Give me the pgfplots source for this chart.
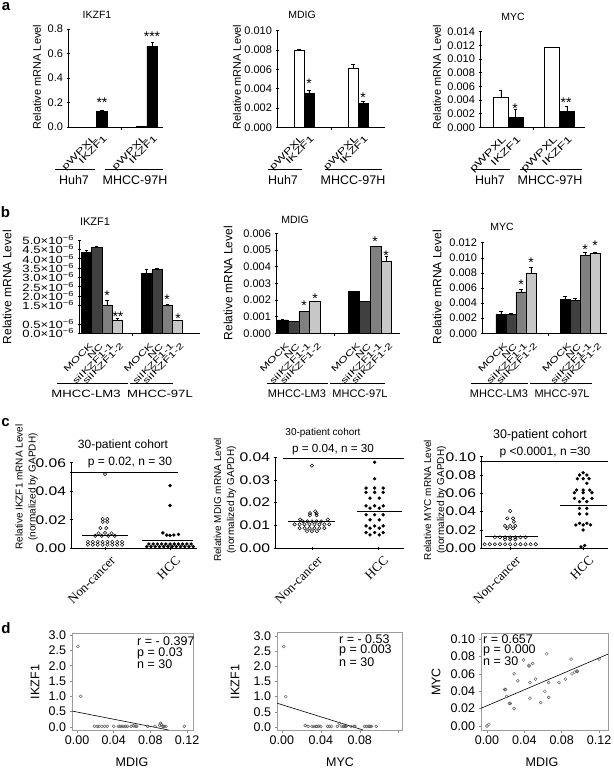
\documentclass[border=0pt]{standalone}
\usepackage{pgfplots}
\pgfplotsset{compat=1.18}
\usepackage{fontspec}
\setmainfont{Liberation Sans}
\newfontfamily\seriffont{Liberation Serif}
\newfontfamily\wide[FakeStretch=1.25]{Liberation Sans}
\newfontfamily\wider[FakeStretch=1.45]{Liberation Sans}
\newcommand\fs[1]{\fontsize{#1}{#1}\selectfont}
\newcommand\tm[1]{#1×10\textsuperscript{−6}}
\definecolor{ncgray}{gray}{0.25}
\definecolor{sagray}{gray}{0.5}
\definecolor{sbgray}{gray}{0.78}
\definecolor{dgray}{gray}{0.35}
\pgfplotsset{
  base/.style={scale only axis, anchor=south west, clip=false, scaled ticks=false,
    /pgf/number format/assume math mode=true,
    tick style={black, line width=0.6pt}, major tick length=3pt, tick align=outside},
  barax/.style={base, axis lines=left, axis line style={-, line width=0.7pt},
    every outer x axis line/.append style={-}, every outer y axis line/.append style={-},
    xtick style={draw=none}, ymin=0,
    xticklabel style={rotate=45, anchor=north east, inner sep=1pt},
    yticklabel style={/pgf/number format/fixed, /pgf/number format/fixed zerofill}},
  alab/.style={xticklabel style={font=\wider\fs{9}, xshift=-2.5pt, yshift=-4pt}},
  blab/.style={xticklabel style={font=\wider\fs{8.5}, xshift=-2.5pt, yshift=-6pt}},
  bars/.style={ybar, bar width=#1, bar shift=0pt, draw=black, line width=0.5pt,
    error bars/y dir=plus, error bars/y explicit,
    error bars/error bar style={line width=0.5pt, black},
    error bars/error mark options={rotate=90, black, line width=0.5pt, mark size=1.6pt}},
  dotax/.style={base, axis lines=left, axis line style={-, line width=0.8pt},
    every outer x axis line/.append style={-}, every outer y axis line/.append style={-},
    xtick={1,2}, xticklabels={Non-cancer,HCC}, ymin=0,
    xticklabel style={rotate=45, anchor=north east, font=\seriffont\fs{13}, xshift=3pt, yshift=-4pt},
    yticklabel style={font=\wide\fs{12.5}, /pgf/number format/fixed,
      /pgf/number format/fixed zerofill, /pgf/number format/precision=2}},
  opendot/.style={only marks, mark=o, mark size=1.7pt, mark options={line width=0.5pt, fill=white, draw=black}},
  filldot/.style={only marks, mark=*, mark size=1.5pt, mark options={fill=black, draw=black}},
  medline/.style={no marks, line width=0.8pt, black},
  corrax/.style={base, axis line style={dgray!60, line width=0.6pt},
    tick style={dgray!70, line width=0.5pt}, major tick length=2.5pt, tick pos=left,
    ticklabel style={font=\fs{12.5}},
    xticklabel style={/pgf/number format/fixed, /pgf/number format/fixed zerofill, /pgf/number format/precision=2}},
  corrpts/.style={only marks, mark=o, mark size=1.5pt, mark options={dgray, line width=0.45pt}},
  regline/.style={no marks, black, line width=0.6pt},
}
\begin{document}
\begin{tikzpicture}
\useasboundingbox (0,0) rectangle (613pt,-768pt);

%================ a: IKZF1
\begin{axis}[barax, alab, at={(68pt,-127pt)}, width=95pt, height=98pt,
  xmin=0.43, xmax=2.32, ymax=0.8, ytick={0,0.2,0.4,0.6,0.8},
  yticklabel style={font=\fs{11}, /pgf/number format/precision=1},
  xtick={0.894,1.106,1.894,2.106}, xticklabels={pWPXL,IKZF1,pWPXL,IKZF1}]
\addplot[bars=0.212, fill=white] coordinates {(0.894,0.001) +- (0,0) (1.894,0.004) +- (0,0)};
\addplot[bars=0.212, fill=black] coordinates {(1.106,0.13) +- (0,0.008) (2.106,0.66) +- (0,0.035)};
\draw[line width=0.6pt] (axis cs:1.5,0) -- ++(0pt,-3pt);
\end{axis}

%================ a: MDIG
\begin{axis}[barax, alab, at={(277pt,-127.3pt)}, width=108pt, height=96.6pt,
  xmin=0.5, xmax=2.5, ymax=0.010, ytick={0,0.002,0.004,0.006,0.008,0.010},
  yticklabel style={font=\fs{11}, /pgf/number format/precision=3},
  xtick={0.9075,1.0925,1.9075,2.0925}, xticklabels={pWPXL,IKZF1,pWPXL,IKZF1}]
\addplot[bars=0.185, fill=white] coordinates {(0.9075,0.0080) +- (0,0.0001) (1.9075,0.0061) +- (0,0.0004)};
\addplot[bars=0.185, fill=black] coordinates {(1.0925,0.0035) +- (0,0.0003) (2.0925,0.0025) +- (0,0.0002)};
\draw[line width=0.6pt] (axis cs:1.5,0) -- ++(0pt,-3pt);
\end{axis}

%================ a: MYC
\begin{axis}[barax, alab, at={(480pt,-127.3pt)}, width=105pt, height=95.6pt,
  xmin=0.45, xmax=2.5, ymax=0.014, ytick={0,0.002,0.004,0.006,0.008,0.010,0.012,0.014},
  yticklabel style={font=\fs{11}, /pgf/number format/precision=3},
  xtick={0.856,1.144,1.856,2.144}, xticklabels={pWPXL,IKZF1,pWPXL,IKZF1},
  xticklabel style={font=\wider\fs{9.5}}]
\addplot[bars=0.288, fill=white] coordinates {(0.856,0.0044) +- (0,0.0010) (1.856,0.0117) +- (0,0)};
\addplot[bars=0.288, fill=black] coordinates {(1.144,0.0014) +- (0,0.0012) (2.144,0.0023) +- (0,0.0008)};
\draw[line width=0.6pt] (axis cs:1.5,0) -- ++(0pt,-3pt);
\end{axis}

%================ b: IKZF1
\begin{axis}[barax, blab, at={(79pt,-333.3pt)}, width=121pt, height=93.3pt,
  xmin=0.62, xmax=2.63, ymax=5e-6,
  ytick={0,0.5e-6,1.5e-6,2e-6,2.5e-6,3e-6,3.5e-6,4e-6,4.5e-6,5e-6},
  yticklabels={\tm{0.0},\tm{0.5},\tm{1.5},\tm{2.0},\tm{2.5},\tm{3.0},\tm{3.5},\tm{4.0},\tm{4.5},\tm{5.0}},
  yticklabel style={font=\wide\fs{10.5}},
  xtick={0.745,0.915,1.085,1.255,1.745,1.915,2.085,2.255},
  xticklabels={MOCK,NC,siIKZF1-1,siIKZF1-2,MOCK,NC,siIKZF1-1,siIKZF1-2}]
\addplot[bars=0.17, fill=black] coordinates {(0.745,4.34e-6) +- (0,0.10e-6) (1.745,3.21e-6) +- (0,0.22e-6)};
\addplot[bars=0.17, fill=ncgray] coordinates {(0.915,4.60e-6) +- (0,0.05e-6) (1.915,3.43e-6) +- (0,0.03e-6)};
\addplot[bars=0.17, fill=sagray] coordinates {(1.085,1.52e-6) +- (0,0.27e-6) (2.085,1.52e-6) +- (0,0.03e-6)};
\addplot[bars=0.17, fill=sbgray] coordinates {(1.255,0.68e-6) +- (0,0.12e-6) (2.255,0.68e-6) +- (0,0.03e-6)};
\draw[line width=0.6pt] (axis cs:1.5,0) -- ++(0pt,-3pt);
\end{axis}

%================ b: MDIG
\begin{axis}[barax, blab, at={(276pt,-333.3pt)}, width=124pt, height=100pt,
  xmin=0.68, xmax=2.42, ymax=0.006, ytick={0,0.001,0.002,0.003,0.004,0.005,0.006},
  yticklabel style={font=\fs{11}, /pgf/number format/precision=3},
  xtick={0.775,0.925,1.075,1.225,1.775,1.925,2.075,2.225},
  xticklabels={MOCK,NC,siIKZF1-1,siIKZF1-2,MOCK,NC,siIKZF1-1,siIKZF1-2}]
\addplot[bars=0.15, fill=black] coordinates {(0.775,0.0008) +- (0,0.00004) (1.775,0.0025) +- (0,0.00004)};
\addplot[bars=0.15, fill=ncgray] coordinates {(0.925,0.0007) +- (0,0.00004) (1.925,0.0019) +- (0,0.00004)};
\addplot[bars=0.15, fill=sagray] coordinates {(1.075,0.0013) +- (0,0.00005) (2.075,0.0052) +- (0,0.00004)};
\addplot[bars=0.15, fill=sbgray] coordinates {(1.225,0.0019) +- (0,0.00004) (2.225,0.0043) +- (0,0.0003)};
\draw[line width=0.6pt] (axis cs:1.5,0) -- ++(0pt,-3pt);
\end{axis}

%================ b: MYC
\begin{axis}[barax, blab, at={(482pt,-333.3pt)}, width=125pt, height=90.6pt,
  xmin=0.47, xmax=2.42, ymax=0.012, ytick={0,0.002,0.004,0.006,0.008,0.010,0.012},
  yticklabel style={font=\fs{11}, /pgf/number format/precision=3},
  xtick={0.766,0.922,1.078,1.234,1.766,1.922,2.078,2.234},
  xticklabels={MOCK,NC,siIKZF1-1,siIKZF1-2,MOCK,NC,siIKZF1-1,siIKZF1-2}]
\addplot[bars=0.156, fill=black] coordinates {(0.766,0.0025) +- (0,0.0004) (1.766,0.0045) +- (0,0.0004)};
\addplot[bars=0.156, fill=ncgray] coordinates {(0.922,0.0025) +- (0,0.0001) (1.922,0.0044) +- (0,0.0003)};
\addplot[bars=0.156, fill=sagray] coordinates {(1.078,0.0055) +- (0,0.0003) (2.078,0.0103) +- (0,0.0004)};
\addplot[bars=0.156, fill=sbgray] coordinates {(1.234,0.0080) +- (0,0.0008) (2.234,0.0106) +- (0,0.0001)};
\draw[line width=0.6pt] (axis cs:1.5,0) -- ++(0pt,-3pt);
\end{axis}

%================ c: IKZF1
\begin{axis}[dotax, at={(71pt,-548.3pt)}, width=126pt, height=85.6pt,
  xmin=0.477, xmax=2.415, ymax=0.06, ytick={0,0.02,0.04,0.06}]
\addplot[opendot] coordinates {
 (1.0,0.052) (0.965,0.0205) (1.035,0.0205) (0.965,0.0185) (1.035,0.0185)
 (0.93,0.0142) (1.02,0.0142)
 (0.9,0.0105) (1.0,0.0108) (1.1,0.0105)
 (0.85,0.0088) (0.95,0.0088) (1.05,0.0088) (1.15,0.0088)
 (0.7375,0.0045) (0.8125,0.0045) (0.8875,0.0045) (0.9625,0.0045) (1.0375,0.0045) (1.1125,0.0045) (1.1875,0.0045) (1.2625,0.0045)
 (0.7375,0.0025) (0.8125,0.0025) (0.8875,0.0025) (0.9625,0.0025) (1.0375,0.0025) (1.1125,0.0025) (1.1875,0.0025) (1.2625,0.0025)};
\addplot[filldot] coordinates {
 (2.0,0.044) (2.0,0.030) (1.89,0.0108) (1.95,0.0093) (2.0,0.0090) (2.06,0.0093) (2.13,0.0098)
 (1.675,0.003) (1.74,0.003) (1.805,0.003) (1.87,0.003) (1.935,0.003) (2.0,0.003) (2.065,0.003) (2.13,0.003) (2.195,0.003) (2.26,0.003) (2.325,0.003)
 (1.6425,0.0012) (1.7075,0.0012) (1.7725,0.0012) (1.8375,0.0012) (1.9025,0.0012) (1.9675,0.0012) (2.0325,0.0012) (2.0975,0.0012) (2.1625,0.0012) (2.2275,0.0012) (2.2925,0.0012) (2.3575,0.0012)};
\addplot[medline] coordinates {(0.646,0.0093) (1.354,0.0093)};
\addplot[medline] coordinates {(1.565,0.0058) (2.359,0.0058)};
\end{axis}

%================ c: MDIG
\begin{axis}[dotax, at={(275pt,-548.3pt)}, width=129pt, height=91.3pt,
  xmin=0.44, xmax=2.395, ymax=0.04, ytick={0,0.01,0.02,0.03,0.04}]
\addplot[opendot] coordinates {
 (1.0,0.0362) (1.05,0.0162) (0.97,0.0154) (1.07,0.0154) (0.97,0.0145) (1.07,0.0145)
 (0.82,0.0126) (1.24,0.0126)
 (0.86,0.0118) (0.93,0.0118) (1.0,0.0118) (1.07,0.0118) (1.14,0.0118)
 (0.7375,0.0105) (0.8125,0.0105) (0.8875,0.0105) (0.9625,0.0105) (1.0375,0.0105) (1.1125,0.0105) (1.1875,0.0105) (1.2625,0.0105)
 (0.8125,0.0088) (0.8875,0.0088) (0.9625,0.0088) (1.0375,0.0088) (1.1125,0.0088) (1.1875,0.0088)
 (0.925,0.0075) (1.0,0.0075) (1.075,0.0075)};
\addplot[filldot] coordinates {
 (1.95,0.0377) (1.95,0.0305)
 (1.82,0.0264) (1.95,0.0264) (2.08,0.0264)
 (1.82,0.0245) (1.95,0.0245) (2.08,0.0245)
 (1.88,0.022) (2.02,0.022)
 (1.82,0.0186) (1.95,0.0186) (2.08,0.0186)
 (1.88,0.0176) (2.02,0.0176)
 (1.82,0.0147) (1.95,0.0147) (2.08,0.0147)
 (1.88,0.0125) (2.02,0.0125)
 (1.82,0.0098) (1.95,0.0098) (2.08,0.0098)
 (1.88,0.0088) (2.02,0.0088)
 (1.82,0.0069) (1.95,0.0069) (2.08,0.0069)
 (1.88,0.0059) (2.02,0.0059)};
\addplot[medline] coordinates {(0.637,0.0117) (1.35,0.0117)};
\addplot[medline] coordinates {(1.682,0.0161) (2.364,0.0161)};
\end{axis}

%================ c: MYC
\begin{axis}[dotax, at={(481pt,-548.3pt)}, width=127pt, height=91.6pt,
  xmin=0.6, xmax=2.34, ymax=0.10, ytick={0,0.02,0.04,0.06,0.08,0.10}]
\addplot[opendot] coordinates {
 (1.0,0.0407) (0.96,0.0327) (1.04,0.0327) (1.05,0.029)
 (0.93,0.0244) (1.0,0.0244) (1.07,0.0244) (0.96,0.0218) (1.04,0.0218)
 (0.79,0.012) (0.86,0.012) (0.93,0.012) (1.0,0.012) (1.07,0.012) (1.14,0.012) (1.21,0.012)
 (0.93,0.0098) (1.0,0.0098) (1.07,0.0098)
 (0.65,0.0044) (0.72,0.0044) (0.79,0.0044) (0.86,0.0044) (0.93,0.0044) (1.0,0.0044) (1.07,0.0044) (1.14,0.0044) (1.21,0.0044) (1.28,0.0044) (1.35,0.0044)};
\addplot[filldot] coordinates {
 (2.0,0.0825) (1.95,0.080) (2.05,0.080) (1.92,0.076) (2.0,0.076) (2.08,0.076) (2.05,0.071)
 (1.91,0.0636) (2.0,0.0636) (2.09,0.0636) (1.88,0.0607) (2.0,0.0607) (2.12,0.0607)
 (1.88,0.0545) (2.0,0.0545) (2.12,0.0545) (1.95,0.051) (2.05,0.051)
 (1.95,0.0436) (2.05,0.0436) (1.95,0.0375) (2.05,0.0375)
 (1.95,0.0273) (2.05,0.0273) (1.9,0.0255) (2.0,0.0255) (2.1,0.0255) (2.0,0.020)
 (2.02,0.003) (1.97,0.0015)};
\addplot[medline] coordinates {(0.655,0.0127) (1.38,0.0127)};
\addplot[medline] coordinates {(1.682,0.0473) (2.326,0.0473)};
\end{axis}

%================ d: IKZF1 vs MDIG
\begin{axis}[corrax, at={(72pt,-730pt)}, width=121pt, height=97pt,
  xmin=-0.0055, xmax=0.1265, ymin=-0.1, ymax=3.07,
  xtick={0,0.04,0.08,0.12}, ytick={0,0.5,1,1.5,2,2.5,3},
  yticklabel style={/pgf/number format/fixed, /pgf/number format/fixed zerofill, /pgf/number format/precision=1}]
\addplot[corrpts] coordinates {
 (0.001,2.63) (0.004,1.00) (0.019,0.02) (0.022,0.02) (0.024,0.02) (0.027,0.02) (0.030,0.02)
 (0.033,0.02) (0.040,0.02) (0.045,0.02) (0.047,0.02) (0.049,0.02) (0.051,0.02) (0.053,0.02)
 (0.055,0.02) (0.059,0.02) (0.061,0.05) (0.062,0.03) (0.064,0.02) (0.065,0.02) (0.077,0.02)
 (0.085,0.02) (0.090,0.05) (0.091,0.12) (0.092,0.08) (0.093,0.03) (0.094,0.02) (0.095,0.02)
 (0.097,0.02) (0.117,0.02)};
\addplot[regline] coordinates {(-0.0055,0.52) (0.0999,-0.1)};
\end{axis}

%================ d: IKZF1 vs MYC
\begin{axis}[corrax, at={(277pt,-730pt)}, width=125pt, height=98pt,
  xmin=-0.005, xmax=0.1234, ymin=-0.099, ymax=3.13,
  xtick={0,0.04,0.08,0.12}, xticklabels={0.00,0.04,0.08,}, ytick={0,0.5,1,1.5,2,2.5,3},
  yticklabel style={/pgf/number format/fixed, /pgf/number format/fixed zerofill, /pgf/number format/precision=1}]
\addplot[corrpts] coordinates {
 (0.002,2.65) (0.004,1.0) (0.024,0.05) (0.027,0.02) (0.031,0.02) (0.033,0.02) (0.035,0.02)
 (0.036,0.02) (0.038,0.03) (0.040,0.02) (0.047,0.02) (0.049,0.02) (0.051,0.02) (0.057,0.02)
 (0.059,0.12) (0.061,0.03) (0.063,0.02) (0.064,0.02) (0.065,0.02) (0.066,0.02) (0.071,0.02)
 (0.074,0.02) (0.075,0.02) (0.085,0.02) (0.087,0.02) (0.089,0.02) (0.090,0.02) (0.091,0.02)
 (0.092,0.02) (0.097,0.02)};
\addplot[regline] coordinates {(-0.005,0.785) (0.0835,-0.099)};
\end{axis}

%================ d: MYC vs MDIG
\begin{axis}[corrax, at={(481pt,-730pt)}, width=127pt, height=97pt,
  xmin=-0.0064, xmax=0.1296, ymin=-0.0046, ymax=0.107,
  xtick={0,0.04,0.08,0.12}, ytick={0,0.02,0.04,0.06,0.08,0.10},
  yticklabel style={/pgf/number format/fixed, /pgf/number format/fixed zerofill, /pgf/number format/precision=2}]
\addplot[corrpts] coordinates {
 (0.000,0.000) (0.002,0.002) (0.019,0.042) (0.020,0.042) (0.021,0.034) (0.024,0.026)
 (0.025,0.026) (0.029,0.020) (0.029,0.060) (0.033,0.052) (0.039,0.076) (0.045,0.069)
 (0.045,0.070) (0.049,0.072) (0.046,0.050) (0.046,0.032) (0.052,0.054) (0.0575,0.027)
 (0.062,0.040) (0.064,0.083) (0.066,0.050) (0.066,0.033) (0.077,0.050) (0.084,0.054)
 (0.090,0.077) (0.091,0.060) (0.094,0.062) (0.096,0.063) (0.097,0.063) (0.120,0.077)};
\addplot[regline] coordinates {(-0.0064,0.0204) (0.1296,0.0827)};
\end{axis}

%================ annotations (pixel coordinates, y downward)
\begin{scope}[x=1pt, y=-1pt, star/.style={font=\fs{14}, inner sep=0pt, yshift=-2.8pt},
  grp/.style={line width=0.8pt}]
 % panel letters
 \node[font=\bfseries\fs{15}] at (6,7) {a};
 \node[font=\bfseries\fs{15}] at (5.5,212) {b};
 \node[font=\bfseries\fs{15}] at (5.5,423) {c};
 \node[font=\bfseries\fs{15}] at (6,628) {d};
 % a titles and labels
 \node[font=\fs{10.5}] at (97,15) {IKZF1};
 \node[font=\fs{10.5}] at (302,15) {MDIG};
 \node[font=\fs{10.5}] at (513,17) {MYC};
 \node[rotate=90, font=\fs{11}] at (37,77) {Relative mRNA Level};
 \node[rotate=90, font=\fs{11}] at (237,77) {Relative mRNA Level};
 \node[rotate=90, font=\fs{11}] at (437,77) {Relative mRNA Level};
 \node[star] at (102,100) {**};
 \node[star] at (152,34) {***};
 \node[star] at (309,81) {*};
 \node[star] at (363,95) {*};
 \node[star] at (515,106) {*};
 \node[star] at (566,100) {**};
 \draw[grp] (55,169) -- (95,169);  \node[font=\fs{12.5}] at (74,180) {Huh7};
 \draw[grp] (105,169) -- (163,169); \node[font=\fs{12.5}] at (135,180) {MHCC-97H};
 \draw[grp] (268,169) -- (302,169); \node[font=\fs{12.5}] at (283,180) {Huh7};
 \draw[grp] (325,169) -- (382,169); \node[font=\fs{12.5}] at (353,180) {MHCC-97H};
 \draw[grp] (472,169) -- (510,169); \node[font=\fs{12.5}] at (490,180) {Huh7};
 \draw[grp] (520,169) -- (582,169); \node[font=\fs{12.5}] at (550,180) {MHCC-97H};
 % b titles and labels
 \node[font=\fs{11}] at (95,222) {IKZF1};
 \node[font=\fs{10.5}] at (295,220) {MDIG};
 \node[font=\fs{10.5}] at (502,227) {MYC};
 \node[rotate=90, font=\fs{12}] at (7,287) {Relative mRNA Level};
 \node[rotate=90, font=\fs{12}] at (228,283) {Relative mRNA Level};
 \node[rotate=90, font=\fs{12}] at (437,287) {Relative mRNA Level};
 \node[star] at (107,293) {*};
 \node[star] at (118,314) {**};
 \node[star] at (167,297) {*};
 \node[star] at (178,316) {*};
 \node[star] at (304,303) {*};
 \node[star] at (315,296) {*};
 \node[star] at (375,239) {*};
 \node[star] at (386,253) {*};
 \node[star] at (521,282) {*};
 \node[star] at (531,260) {*};
 \node[star] at (585,247) {*};
 \node[star] at (595,243) {*};
 \draw[grp] (57,383) -- (128,383);  \node[font=\wide\fs{10.5}] at (86,394) {MHCC-LM3};
 \draw[grp] (130,383) -- (173,383); \node[font=\wide\fs{10.5}] at (160,394) {MHCC-97L};
 \draw[grp] (267,383) -- (328,383); \node[font=\fs{11}] at (297,394) {MHCC-LM3};
 \draw[grp] (330,383) -- (385,383); \node[font=\fs{11}] at (360,394) {MHCC-97L};
 \draw[grp] (471,383) -- (528,383); \node[font=\fs{11}] at (499,394) {MHCC-LM3};
 \draw[grp] (530,383) -- (592,383); \node[font=\fs{11}] at (562,394) {MHCC-97L};
 % c titles, p values, lines, y labels
 \node[font=\fs{12}] at (123,445) {30-patient cohort};
 \node[font=\fs{12}] at (130,463) {p = 0.02, n = 30};
 \draw[line width=1pt] (70,472) -- (178,472);
 \node[font=\fs{10}] at (323,433) {30-patient cohort};
 \node[font=\fs{11.7}] at (333,450) {p = 0.04, n = 30};
 \draw[line width=1pt] (283,458) -- (404,458);
 \node[font=\fs{12.5}] at (540,435) {30-patient cohort};
 \node[font=\fs{12}] at (545,453) {p <0.0001, n =30};
 \draw[line width=1pt] (480,461) -- (608,461);
 \node[rotate=90, align=center, font=\fontsize{10}{13}\selectfont] at (26.5,487) {Relative IKZF1 mRNA Level\\(normalized by GAPDH)};
 \node[rotate=90, align=center, font=\fontsize{10}{13}\selectfont] at (225,500) {Relative MDIG mRNA Level\\(normalized by GAPDH)};
 \node[rotate=90, align=center, font=\fontsize{10}{13}\selectfont] at (435,500) {Relative MYC mRNA Level\\(normalized by GAPDH)};
 % d labels and statistics
 \node[font=\fs{12.5}] at (132,762) {MDIG};
 \node[font=\fs{12.5}] at (340,762) {MYC};
 \node[font=\fs{12.5}] at (542,762) {MDIG};
 \node[rotate=90, font=\fs{12.5}] at (35,682) {IKZF1};
 \node[rotate=90, font=\fs{12.5}] at (235,682) {IKZF1};
 \node[rotate=90, font=\fs{12.5}] at (436,682) {MYC};
 \begin{scope}[every node/.style={anchor=base west, inner sep=0pt, font=\fs{12.5}}]
  \node at (137,645.5) {r = - 0.397};
  \node at (137,656.5) {p = 0.03};
  \node at (137,668) {n = 30};
  \node at (339,643.5) {r = - 0.53};
  \node at (339,653.5) {p = 0.003};
  \node at (339,666.5) {n = 30};
  \node at (483,643.5) {r = 0.657};
  \node at (483,653.5) {p = 0.000};
  \node at (483,665.5) {n = 30};
 \end{scope}
\end{scope}
\end{tikzpicture}
\end{document}
